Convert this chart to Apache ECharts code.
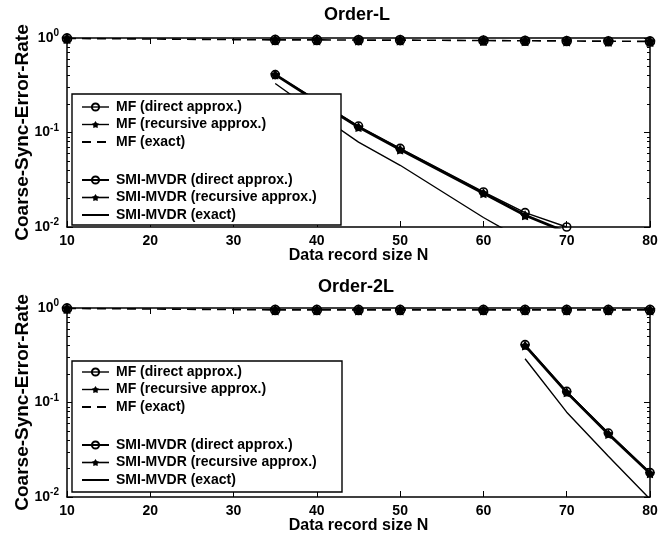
<!DOCTYPE html>
<html><head><meta charset="utf-8">
<script src="https://cdn.jsdelivr.net/npm/echarts@6/dist/echarts.min.js"></script>
<style>html,body{margin:0;padding:0;background:#fff}#c{width:661px;height:541px}</style>
</head><body><div id="c"></div>
<script>
// ---------------- data ----------------
const N = [10, 35, 40, 45, 50, 60, 65, 70, 75, 80];
const xTicks = [10, 20, 30, 40, 50, 60, 70, 80];
const yMajorTicks = [0.01, 0.1, 1];
const yMinorTicks = [0.02, 0.03, 0.04, 0.05, 0.06, 0.07, 0.08, 0.09, 0.2, 0.3, 0.4, 0.5, 0.6, 0.7, 0.8, 0.9];

// Order-L
const mfDirectL    = [0.99, 0.955, 0.955, 0.95, 0.95, 0.94, 0.935, 0.93, 0.925, 0.92];
const mfRecursiveL = [0.99, 0.955, 0.955, 0.95, 0.95, 0.94, 0.935, 0.93, 0.925, 0.92];
const mfExactL     = [0.99, 0.955, 0.955, 0.95, 0.95, 0.94, 0.935, 0.93, 0.925, 0.92];
const smiDirectL    = [null, 0.41, 0.219, 0.117, 0.068, 0.0235, 0.0142, 0.0100, null, null];
const smiRecursiveL = [null, 0.41, 0.214, 0.114, 0.066, 0.0228, 0.0133, 0.0088, null, null];
const smiExactL     = [null, 0.33, 0.160, 0.079, 0.045, 0.0126, 0.0071, null, null, null];

// Order-2L
const mfDirect2L    = [0.99, 0.955, 0.955, 0.955, 0.955, 0.955, 0.955, 0.955, 0.955, 0.955];
const mfRecursive2L = [0.99, 0.955, 0.955, 0.955, 0.955, 0.955, 0.955, 0.955, 0.955, 0.955];
const mfExact2L     = [0.99, 0.955, 0.955, 0.955, 0.955, 0.955, 0.955, 0.955, 0.955, 0.955];
const smiDirect2L    = [null, null, null, null, null, null, 0.41, 0.131, 0.0475, 0.0181];
const smiRecursive2L = [null, null, null, null, null, null, 0.40, 0.128, 0.0465, 0.0178];
const smiExact2L     = [null, null, null, null, null, null, 0.29, 0.079, 0.027, 0.0095];

const names = ['MF (direct approx.)', 'MF (recursive approx.)', 'MF (exact)',
               'SMI-MVDR (direct approx.)', 'SMI-MVDR (recursive approx.)', 'SMI-MVDR (exact)'];
const titles = ['Order-L', 'Order-2L'];

// ---------------- styling ----------------
const FONT = "'Liberation Sans', Arial, Helvetica, sans-serif";
const STAR = 'path://M50,0L67.6,25.7L97.6,34.5L78.5,59.3L79.4,90.5L50,80L20.6,90.5L21.5,59.3L2.4,34.5L32.4,25.7Z';
const gridTops = [38, 308];
const gridH = 189;

function pairs(vals) {
  const out = [];
  N.forEach((n, i) => { if (vals[i] != null) out.push([n, vals[i]]); });
  return out;
}

function mk(name, vals, g, kind) {
  const s = {
    name, type: 'line', data: pairs(vals), xAxisIndex: g * 2, yAxisIndex: g * 4,
    clip: true, animation: false, silent: true,
    lineStyle: { color: '#000', width: 1.4 },
    itemStyle: { color: '#000' }
  };
  if (kind === 'ring') {
    s.symbol = 'circle'; s.symbolSize = 8;
    s.itemStyle = { color: 'rgba(0,0,0,0)', borderColor: '#000', borderWidth: 1.6 };
  } else if (kind === 'star') {
    s.symbol = STAR; s.symbolSize = 10;
  } else {
    s.symbol = 'none';
  }
  return s;
}

const series = [];
[[mfDirectL, mfRecursiveL, mfExactL, smiDirectL, smiRecursiveL, smiExactL],
 [mfDirect2L, mfRecursive2L, mfExact2L, smiDirect2L, smiRecursive2L, smiExact2L]].forEach((d, g) => {
  const smiE = mk(names[5], d[5], g, 'none');
  const smiR = mk(names[4], d[4], g, 'star'); smiR.lineStyle.width = 2.8;
  const smiD = mk(names[3], d[3], g, 'ring');
  const mfE = mk(names[2], d[2], g, 'none'); mfE.lineStyle.type = [9, 6]; mfE.lineStyle.width = 1.6;
  const mfR = mk(names[1], d[1], g, 'star'); mfR.lineStyle.opacity = 0; mfR.symbolSize = 11;
  const mfD = mk(names[0], d[0], g, 'ring'); mfD.lineStyle.opacity = 0; mfD.symbolSize = 9;
  series.push(smiE, smiR, smiD, mfE, mfR, mfD);
});

const txt = { color: '#000', fontFamily: FONT, fontWeight: 'bold' };
const minorExp = yMinorTicks.map(v => Math.log10(v));

const xAxis = [], yAxis = [];
gridTops.forEach((t, g) => {
  xAxis.push({
    type: 'value', gridIndex: g, min: xTicks[0], max: xTicks[xTicks.length - 1], interval: xTicks[1] - xTicks[0],
    position: 'bottom',
    axisLine: { show: true, onZero: false, lineStyle: { color: '#000', width: 1.5 } },
    axisTick: { show: true, inside: true, length: 6, lineStyle: { color: '#000' } },
    axisLabel: Object.assign({ fontSize: 14, margin: 7 }, txt),
    splitLine: { show: false },
    name: 'Data record size N', nameLocation: 'middle', nameGap: 21, nameMoveOverlap: false,
    nameTextStyle: Object.assign({ fontSize: 16 }, txt)
  });
  xAxis.push({
    type: 'value', gridIndex: g, min: xTicks[0], max: xTicks[xTicks.length - 1], interval: xTicks[1] - xTicks[0],
    position: 'top',
    axisLine: { show: true, onZero: false, lineStyle: { color: '#000', width: 1.5 } },
    axisTick: { show: true, inside: true, length: 6, lineStyle: { color: '#000' } },
    axisLabel: { show: false }, splitLine: { show: false }
  });
  const base = { type: 'log', logBase: 10, gridIndex: g, min: yMajorTicks[0], max: yMajorTicks[yMajorTicks.length - 1], splitLine: { show: false } };
  // exponent-space helper axis carrying the minor (2..9) ticks of the log scale
  const minorBase = { type: 'value', gridIndex: g, min: Math.log10(yMajorTicks[0]), max: Math.log10(yMajorTicks[yMajorTicks.length - 1]),
    splitLine: { show: false }, axisLine: { show: false, onZero: false }, axisLabel: { show: false },
    axisTick: { show: true, inside: true, length: 3, customValues: minorExp, lineStyle: { color: '#000' } } };
  yAxis.push(Object.assign({}, base, {
    position: 'left',
    axisLine: { show: true, onZero: false, lineStyle: { color: '#000', width: 1.5 } },
    axisTick: { show: true, inside: true, length: 6, lineStyle: { color: '#000' } },
    axisLabel: {
      margin: 8,
      formatter: v => { const e = Math.round(Math.log10(v)); return '{b|10}{s|' + e + '}'; },
      rich: {
        b: Object.assign({ fontSize: 14 }, txt),
        s: Object.assign({ fontSize: 10, padding: [0, 0, 9, 0] }, txt)
      }
    },
    name: 'Coarse-Sync-Error-Rate', nameLocation: 'middle', nameGap: 35, nameRotate: 90, nameMoveOverlap: false,
    nameTextStyle: Object.assign({ fontSize: 19 }, txt)
  }));
  yAxis.push(Object.assign({}, minorBase, { position: 'left' }));
  yAxis.push(Object.assign({}, base, {
    position: 'right',
    axisLine: { show: true, onZero: false, lineStyle: { color: '#000', width: 1.5 } },
    axisTick: { show: true, inside: true, length: 6, lineStyle: { color: '#000' } },
    axisLabel: { show: false }
  }));
  yAxis.push(Object.assign({}, minorBase, { position: 'right' }));
});

const legendTops = [[100, 173], [365, 438]];
const legends = [];
legendTops.forEach((tp) => {
  const common = {
    orient: 'vertical', left: 81, itemWidth: 27, itemHeight: 9, itemGap: 3.5, padding: 0,
    selectedMode: false, zlevel: 1, z: 6,
    textStyle: Object.assign({ fontSize: 14, lineHeight: 14, fontWeight: 'bold', padding: [0, 0, 0, 2] }, { color: '#000', fontFamily: FONT })
  };
  legends.push(Object.assign({}, common, {
    top: tp[0],
    data: [
      { name: names[0], lineStyle: { opacity: 1, color: '#000', width: 1.4 } },
      { name: names[1], lineStyle: { opacity: 1, color: '#000', width: 1.4 } },
      { name: names[2], itemStyle: { opacity: 0 } }
    ]
  }));
  legends.push(Object.assign({}, common, {
    top: tp[1],
    data: [
      { name: names[3] },
      { name: names[4], lineStyle: { width: 1.6 } },
      { name: names[5], itemStyle: { opacity: 0 } }
    ]
  }));
});

const option = {
  backgroundColor: '#fff',
  animation: false,
  title: [
    { text: titles[0], left: 357, top: 6, textAlign: 'center', padding: 0, textStyle: Object.assign({ fontSize: 18 }, txt) },
    { text: titles[1], left: 356, top: 278, textAlign: 'center', padding: 0, textStyle: Object.assign({ fontSize: 18 }, txt) }
  ],
  grid: gridTops.map(t => ({ left: 67, right: 11, top: t, height: gridH, outerBoundsMode: 'none', containLabel: false })),
  xAxis, yAxis,
  legend: legends,
  graphic: [
    { type: 'rect', zlevel: 1, z: 3, shape: { x: 72, y: 94, width: 269, height: 131 }, style: { fill: '#fff', stroke: '#000', lineWidth: 1.4 } },
    { type: 'rect', zlevel: 1, z: 3, shape: { x: 72, y: 361, width: 270, height: 131 }, style: { fill: '#fff', stroke: '#000', lineWidth: 1.4 } }
  ],
  series
};

const chart = echarts.init(document.getElementById('c'), null, { renderer: 'canvas' });
chart.setOption(option);
</script>
</body></html>
